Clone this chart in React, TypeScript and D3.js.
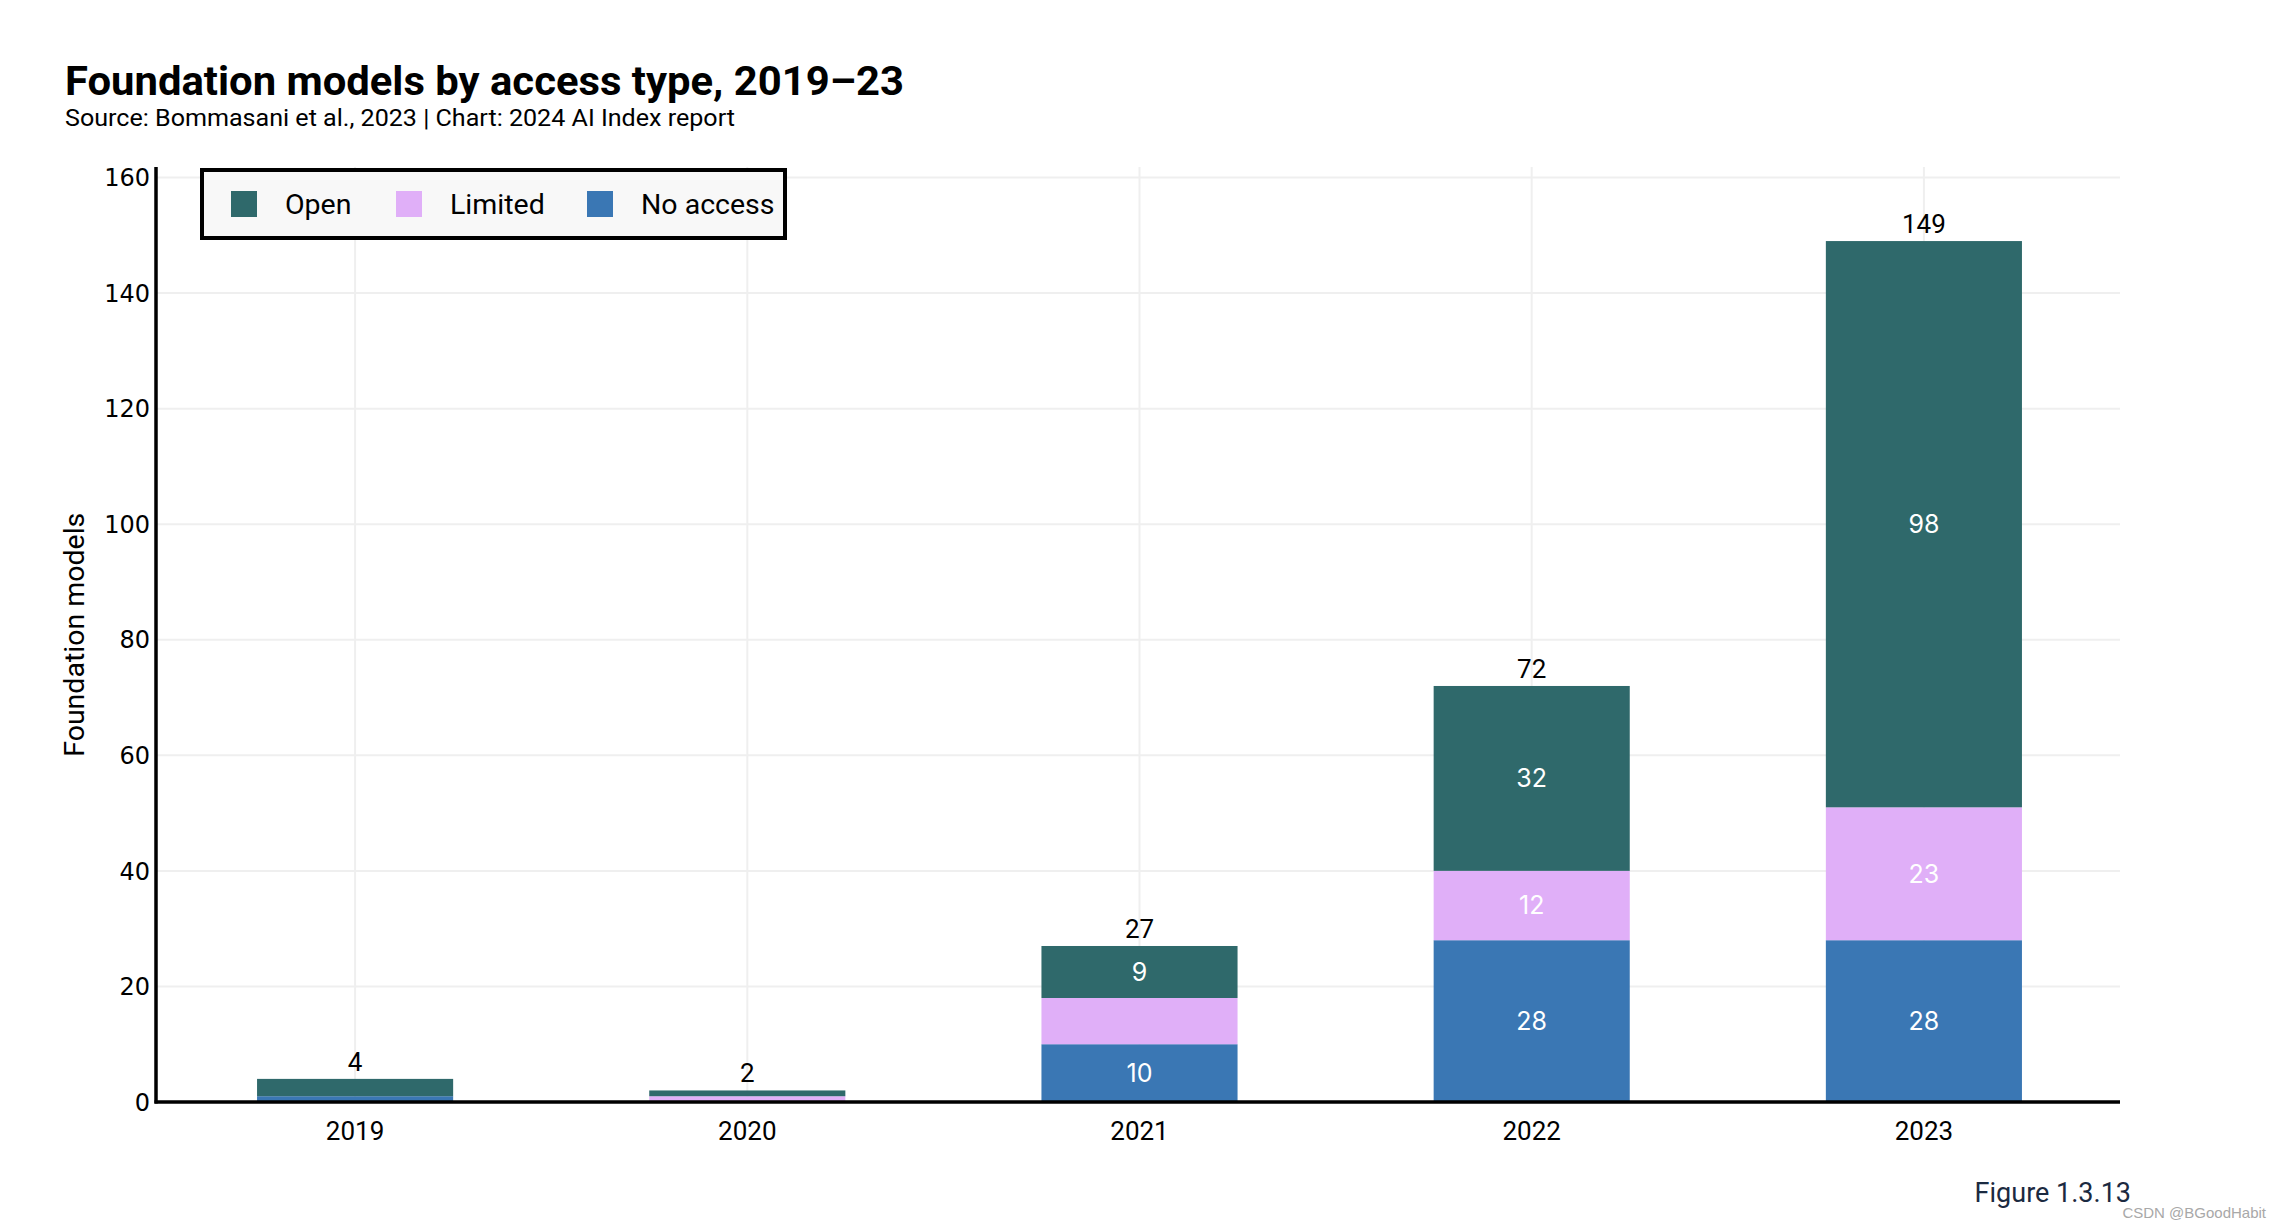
import React from "react";
import * as d3 from "d3";

const years = ["2019", "2020", "2021", "2022", "2023"];
const noAccess = [1, 0, 10, 28, 28];
const limited = [0, 1, 8, 12, 23];
const open = [3, 1, 9, 32, 98];
const seriesNames = ["No access", "Limited", "Open"];
const legendOrder = ["Open", "Limited", "No access"];
const yTicks = [0, 20, 40, 60, 80, 100, 120, 140, 160];
const colors: Record<string, string> = {
  "Open": "#2F696B",
  "Limited": "#E0AFF8",
  "No access": "#3A77B4",
};

const W = 2282;
const H = 1228;
const left = 156;
const right = 2120;
const bottom = 1102;
const topY = 177.5;

export default function App() {
  const rows = years.map((y, i) => ({
    year: y,
    "No access": noAccess[i],
    "Limited": limited[i],
    "Open": open[i],
  }));
  const stack = d3.stack<any>().keys(seriesNames)(rows);
  const x = d3.scaleBand().domain(years).range([left + 3, right]).paddingInner(0.5).paddingOuter(0.25);
  const y = d3.scaleLinear().domain([0, 160]).range([bottom, topY]);
  const plotTop = y(161.8);
  const totals = years.map((_, i) => noAccess[i] + limited[i] + open[i]);
  const sans = "Roboto, 'Liberation Sans', sans-serif";

  return (
    <svg width={W} height={H} style={{ position: "absolute", left: 0, top: 0, background: "#fff" }}>
      <rect x={0} y={0} width={W} height={H} fill="#fff" />
      {/* Title */}
      <text x={65} y={95} fontFamily={sans} fontWeight={700} fontSize={41} fill="#000" textLength={839} lengthAdjust="spacingAndGlyphs">
        Foundation models by access type, 2019–23
      </text>
      <text x={65} y={126} fontFamily={sans} fontSize={23} fill="#000" textLength={670} lengthAdjust="spacingAndGlyphs">
        Source: Bommasani et al., 2023 | Chart: 2024 AI Index report
      </text>

      {/* gridlines */}
      {yTicks.map((t) => (
        <line key={"h" + t} x1={left} x2={right} y1={y(t)} y2={y(t)} stroke="#efefef" strokeWidth={2} />
      ))}
      {years.map((yr) => (
        <line key={"v" + yr} x1={x(yr)! + x.bandwidth() / 2} x2={x(yr)! + x.bandwidth() / 2} y1={plotTop} y2={bottom} stroke="#efefef" strokeWidth={2} />
      ))}

      {/* bars */}
      {stack.map((s) => (
        <g key={s.key} fill={colors[s.key]}>
          {s.map((d, i) => (
            <rect key={i} x={x(years[i])} width={x.bandwidth()} y={y(d[1])} height={Math.max(0, y(d[0]) - y(d[1]))} />
          ))}
        </g>
      ))}
      {/* inner labels */}
      {stack.map((s) =>
        s.map((d, i) => {
          const v = d[1] - d[0];
          if (v < 9) return null;
          return (
            <text key={s.key + i} x={x(years[i])! + x.bandwidth() / 2} y={(y(d[0]) + y(d[1])) / 2} dy="0.35em" textAnchor="middle" fontFamily="Inter, 'Liberation Sans', sans-serif" fontSize={25} fill="#fff">
              {v}
            </text>
          );
        })
      )}
      {/* totals */}
      {totals.map((t, i) => (
        <text key={"t" + i} x={x(years[i])! + x.bandwidth() / 2} y={y(t) - 8} textAnchor="middle" fontFamily={sans} fontSize={26} fill="#000">
          {t}
        </text>
      ))}

      {/* axes */}
      <line x1={left} x2={left} y1={plotTop} y2={bottom + 1.5} stroke="#000" strokeWidth={3.5} />
      <line x1={left - 1.5} x2={right} y1={bottom} y2={bottom} stroke="#000" strokeWidth={3.5} />
      {yTicks.map((t) => (
        <text key={"yt" + t} x={150} y={y(t)} dy="0.36em" textAnchor="end" fontFamily="'DejaVu Sans', sans-serif" fontSize={24} fill="#000">
          {t}
        </text>
      ))}
      {years.map((yr) => (
        <text key={"xt" + yr} x={x(yr)! + x.bandwidth() / 2} y={1140} textAnchor="middle" fontFamily={sans} fontSize={26} fill="#000">
          {yr}
        </text>
      ))}
      <text transform={`translate(84, ${y(80) - 5})rotate(-90)`} textAnchor="middle" fontFamily={sans} fontSize={28.5} fill="#000">
        Foundation models
      </text>

      {/* legend */}
      <rect x={202} y={170} width={583} height={68} fill="#f8f8f8" stroke="#000" strokeWidth={4} />
      {legendOrder.map((k, i) => {
        const sx = [231, 396, 587][i];
        return (
          <g key={k}>
            <rect x={sx} y={191} width={26} height={26} fill={colors[k]} />
            <text x={sx + 54} y={204} dy="0.36em" fontFamily={sans} fontSize={28.5} fill="#000">
              {k}
            </text>
          </g>
        );
      })}

      {/* footer */}
      <text x={2131} y={1202} textAnchor="end" fontFamily={sans} fontSize={27} fill="#1b2a41">
        Figure 1.3.13
      </text>
      <text x={2266} y={1218} textAnchor="end" fontFamily="'Liberation Sans', sans-serif" fontSize={15} fill="#a8a8a8">
        CSDN @BGoodHabit
      </text>
    </svg>
  );
}
